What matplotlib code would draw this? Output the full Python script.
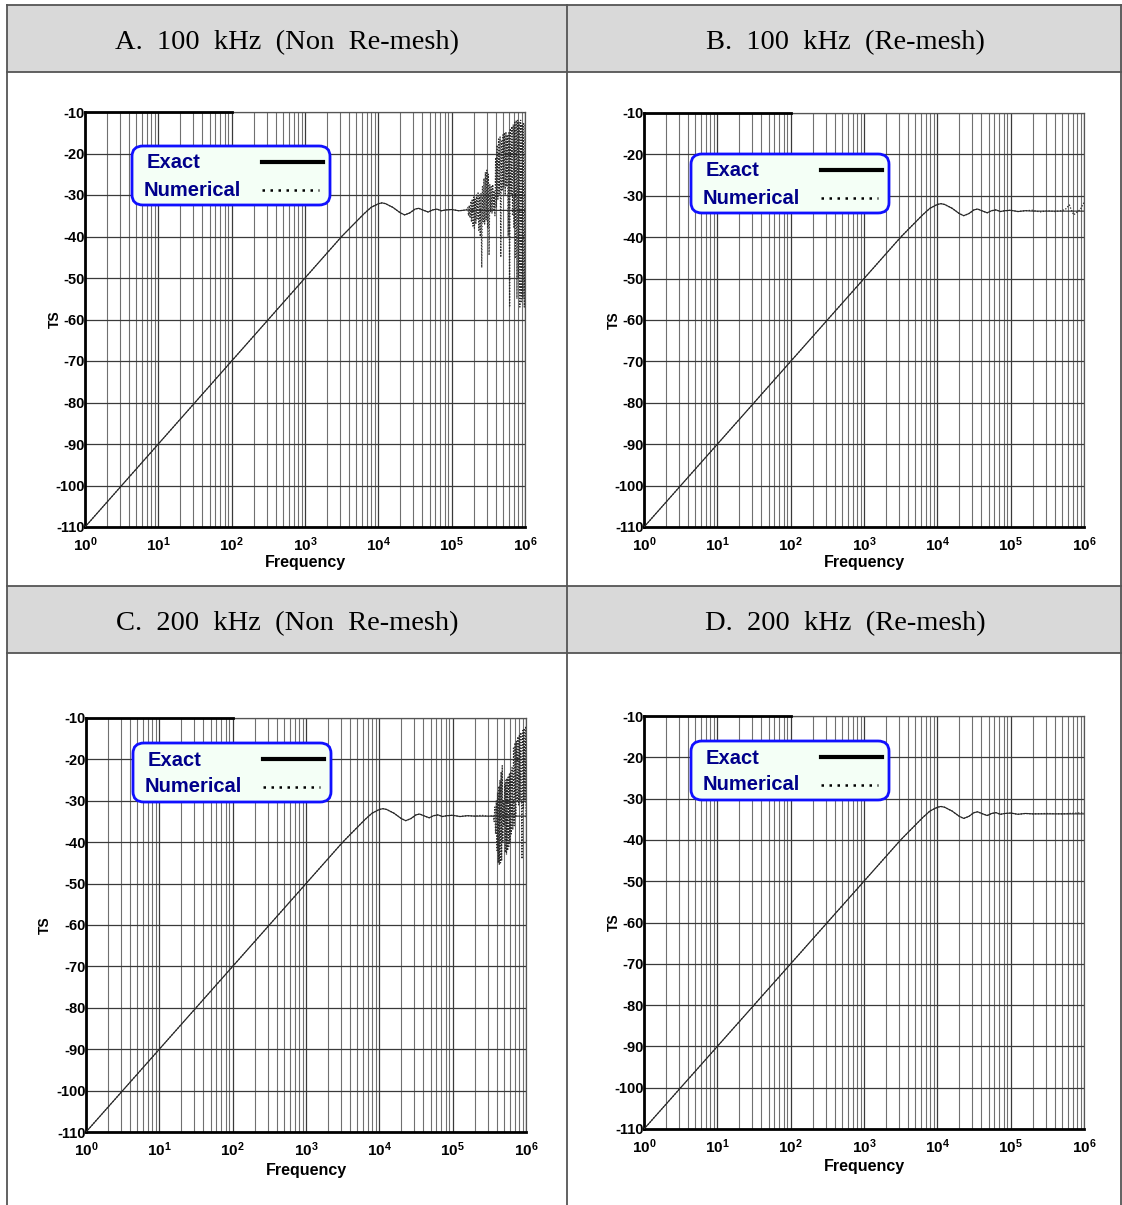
import matplotlib
matplotlib.use('Agg')
import matplotlib.pyplot as plt
import numpy as np
from matplotlib.patches import Rectangle, FancyBboxPatch
from matplotlib.lines import Line2D

plt.rcParams['font.family'] = ['Liberation Sans', 'DejaVu Sans']
plt.rcParams['mathtext.fontset'] = 'custom'
plt.rcParams['mathtext.rm'] = 'Liberation Sans'
plt.rcParams['mathtext.bf'] = 'Liberation Sans:bold'

# Panel titles
titles = ['A.  100  kHz  (Non  Re-mesh)', 'B.  100  kHz  (Re-mesh)',
          'C.  200  kHz  (Non  Re-mesh)', 'D.  200  kHz  (Re-mesh)']

# Exact TS curve (log10 of frequency, dB)
exact_logf = [0.0, 3.5, 3.6, 3.7, 3.8, 3.9, 4.0, 4.05, 4.1, 4.2, 4.3, 4.36, 4.43,
              4.5, 4.55, 4.62, 4.68, 4.74, 4.8, 4.86, 4.92, 5.0, 5.1, 5.2, 5.3,
              5.5, 5.7, 6.0]
exact_ts = [-110.0, -40.0, -38.2, -36.4, -34.6, -33.0, -32.1, -31.9, -32.1, -33.0,
            -34.3, -34.8, -34.3, -33.4, -33.2, -33.7, -34.1, -33.6, -33.4, -33.8,
            -33.6, -33.5, -33.8, -33.6, -33.7, -33.7, -33.7, -33.7]

# Numerical curves: shared part up to the point where each one departs
num_base_logf = [0.0, 3.5, 3.6, 3.7, 3.8, 3.9, 4.0, 4.05, 4.1, 4.2, 4.3, 4.36, 4.43,
                 4.5, 4.55, 4.62, 4.68, 4.74, 4.8, 4.86, 4.92, 5.0, 5.1, 5.2]
num_base_ts = [-110.0, -40.0, -38.2, -36.4, -34.6, -33.0, -32.1, -31.9, -32.1, -33.0,
               -34.3, -34.8, -34.3, -33.4, -33.2, -33.7, -34.1, -33.6, -33.4, -33.8,
               -33.6, -33.5, -33.8, -33.6]

# A: 100 kHz, non re-mesh
tail_a_logf = [5.22, 5.23, 5.24, 5.25, 5.26, 5.27, 5.28, 5.29, 5.30, 5.31, 5.32, 5.33,
               5.34, 5.35, 5.36, 5.37, 5.38, 5.39, 5.40, 5.41, 5.42, 5.43, 5.44, 5.45,
               5.46, 5.47, 5.48, 5.49, 5.50, 5.51, 5.52, 5.53, 5.54, 5.55, 5.56, 5.57,
               5.58, 5.59, 5.60, 5.61, 5.62, 5.63, 5.64, 5.65, 5.66, 5.67, 5.68, 5.69,
               5.70, 5.71, 5.72, 5.73, 5.74, 5.75, 5.76, 5.77, 5.78, 5.79, 5.80, 5.81,
               5.82, 5.83, 5.84, 5.85, 5.86, 5.87, 5.88, 5.89, 5.90, 5.91, 5.92, 5.93,
               5.94, 5.95, 5.96, 5.97, 5.98, 5.99, 6.00]
tail_a_ts = [-33.0, -35.0, -32.5, -35.5, -31.5, -36.5, -31.0, -37.5, -30.5, -38.0, -31.0,
             -37.0, -30.0, -36.0, -29.5, -38.5, -30.0, -40.0, -29.5, -47.5, -28.0, -36.5,
             -26.0, -37.0, -24.5, -36.0, -24.0, -38.0, -25.0, -44.5, -27.5, -34.0, -28.0,
             -34.5, -27.5, -33.5, -29.0, -35.0, -21.0, -33.0, -18.0, -31.0, -16.5, -30.0,
             -16.0, -45.0, -17.0, -29.0, -15.5, -28.0, -15.0, -30.0, -14.8, -28.0, -15.5,
             -40.0, -15.0, -57.0, -14.0, -30.0, -13.5, -35.0, -13.0, -38.0, -12.5, -45.0,
             -12.0, -55.0, -12.0, -50.0, -12.5, -57.0, -12.0, -56.0, -13.0, -55.0, -12.5,
             -57.0, -13.0]

# B: 100 kHz, re-mesh
tail_b_logf = [5.3, 5.4, 5.5, 5.6, 5.7, 5.75, 5.8, 5.83, 5.86, 5.9, 5.95, 6.0]
tail_b_ts = [-33.5, -33.9, -33.6, -33.8, -33.6, -33.2, -32.2, -33.5, -34.6, -34.0,
             -33.3, -31.6]

# C: 200 kHz, non re-mesh
tail_c_logf = [5.3, 5.4, 5.5, 5.55, 5.565, 5.575, 5.585, 5.595, 5.605, 5.612, 5.62,
               5.628, 5.636, 5.644, 5.652, 5.66, 5.668, 5.676, 5.684, 5.692, 5.70,
               5.71, 5.718, 5.726, 5.734, 5.742, 5.75, 5.758, 5.766, 5.774, 5.782,
               5.79, 5.80, 5.81, 5.82, 5.83, 5.84, 5.85, 5.86, 5.87, 5.88, 5.89, 5.90,
               5.91, 5.92, 5.93, 5.946, 5.955, 5.965, 5.975, 5.985, 5.995, 6.0]
tail_c_ts = [-33.7, -33.5, -33.8, -33.5, -35.0, -31.5, -38.0, -30.0, -42.0, -28.0,
             -45.0, -26.5, -45.5, -25.0, -45.0, -23.0, -44.5, -21.5, -40.0, -30.0,
             -36.0, -26.0, -42.5, -25.0, -43.0, -24.5, -42.0, -24.0, -41.0, -23.5,
             -40.0, -23.0, -38.0, -22.0, -37.0, -17.0, -36.0, -16.0, -34.0, -15.5,
             -30.0, -14.5, -31.0, -14.0, -30.0, -13.5, -44.0, -13.0, -32.0, -12.5,
             -30.0, -12.0, -34.0]

# D: 200 kHz, re-mesh
tail_d_logf = [5.3, 5.5, 5.7, 5.9, 6.0]
tail_d_ts = [-33.7, -33.6, -33.7, -33.5, -33.4]

tails = [(tail_a_logf, tail_a_ts), (tail_b_logf, tail_b_ts),
         (tail_c_logf, tail_c_ts), (tail_d_logf, tail_d_ts)]

W, H = 1122, 1205
fig = plt.figure(figsize=(W / 100, H / 100), dpi=100)


def fx(x):
    return x / W


def fy(y):
    return 1 - y / H


# table background and rules
for y0, y1 in [(5, 72), (586, 653)]:
    fig.add_artist(Rectangle((fx(7), fy(y1)), fx(1122 - 7), (y1 - y0) / H,
                             transform=fig.transFigure, facecolor='#d9d9d9',
                             edgecolor='none'))
rule = dict(color='#555555', lw=1.3, transform=fig.transFigure)
for y in [5, 72, 586, 653]:
    fig.add_artist(Line2D([fx(7), fx(1122)], [fy(y), fy(y)], **rule))
for x in [7, 567, 1121]:
    fig.add_artist(Line2D([fx(x), fx(x)], [fy(5), fy(1205)], **rule))

title_pos = [(287, 43), (845, 43), (287, 624), (845, 624)]
for t, (x, y) in zip(titles, title_pos):
    fig.text(fx(x), fy(y), t, ha='center', va='center', fontsize=20.5,
             family='Liberation Serif')

# axes boxes in pixels: left, top, right, bottom
boxes = [(85, 112, 525, 527), (644, 113, 1084, 527),
         (86, 718, 526, 1132), (644, 716, 1084, 1129)]
xlabel_off = [35, 35, 39, 38]
ylabel_x = [55, 614, 45, 614]
legend_top = [146, 154, 743, 741]

for i, (l, t, r, b) in enumerate(boxes):
    ax = fig.add_axes([fx(l), fy(b), (r - l) / W, (b - t) / H])
    ax.set_xscale('log')
    ax.set_xlim(1, 1e6)
    ax.set_ylim(-110, -10)
    ax.grid(True, which='major', color='#3a3a3a', lw=0.9)
    ax.grid(True, which='minor', axis='x', color='#707070', lw=0.8)
    ax.set_axisbelow(True)

    ax.set_xticks([10.0 ** k for k in range(7)])
    ax.set_xticklabels([r'$\mathbf{10^{%d}}$' % k for k in range(7)], fontsize=11)
    ax.set_yticks(np.arange(-110, 0, 10))
    ax.set_yticklabels([str(v) for v in range(-110, 0, 10)], fontsize=10.5,
                       fontweight='bold')
    ax.tick_params(which='both', length=0, pad=0)
    ax.tick_params(axis='x', pad=6)

    for s in ['left', 'bottom']:
        ax.spines[s].set_linewidth(2)
        ax.spines[s].set_color('black')
    for s in ['top', 'right']:
        ax.spines[s].set_linewidth(0.9)
        ax.spines[s].set_color('#555555')
    ax.plot([1, 100], [-10, -10], color='black', lw=2, clip_on=False, zorder=5)

    ax.plot(10 ** np.array(exact_logf), exact_ts, color='#222222', lw=0.8, zorder=3)
    nl = num_base_logf + tails[i][0]
    nt = num_base_ts + tails[i][1]
    ax.plot(10 ** np.array(nl), nt, color='#2a2a2a', lw=0.9, ls=(0, (1, 1.3)), zorder=4)

    h = b - t
    ax.text(0.5, -xlabel_off[i] / h, 'Frequency', transform=ax.transAxes,
            ha='center', va='center', fontsize=11.5, fontweight='bold')
    ax.text((ylabel_x[i] - l) / (r - l), 0.5, 'TS', transform=ax.transAxes,
            ha='center', va='center', rotation=90, fontsize=10, fontweight='bold')

    # legend box
    lt = legend_top[i] - t
    bx0 = 47 / 440
    bw = 198 / 440
    bh = 59 / h
    by = 1 - (lt + 59) / h
    ax.add_patch(FancyBboxPatch((bx0, by), bw, bh, boxstyle='round,pad=0,rounding_size=0.025',
                                transform=ax.transAxes, facecolor='#f4fff6',
                                edgecolor='#1010ff', lw=2, zorder=6, clip_on=False))
    ax.text(bx0 + 15 / 440, by + bh - 17 / h, 'Exact', transform=ax.transAxes,
            ha='left', va='center', fontsize=14.5, fontweight='bold', color='#00008b',
            zorder=7)
    ax.text(bx0 + 12 / 440, by + bh - 44 / h, 'Numerical', transform=ax.transAxes,
            ha='left', va='center', fontsize=14.5, fontweight='bold', color='#00008b',
            zorder=7)
    ax.plot([bx0 + 130 / 440, bx0 + 191 / 440], [by + bh - 16 / h] * 2,
            transform=ax.transAxes, color='black', lw=3, zorder=7, clip_on=False)
    ax.plot([bx0 + 130 / 440, bx0 + 187 / 440], [by + bh - 44 / h] * 2,
            transform=ax.transAxes, color='black', lw=1.8, ls=(0, (1, 2.2)),
            zorder=7, clip_on=False)

fig.savefig('out.png', dpi=100)
